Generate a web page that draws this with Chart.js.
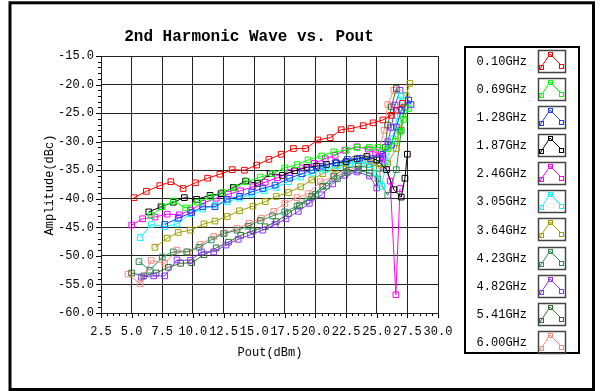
<!DOCTYPE html>
<html>
<head>
<meta charset="utf-8">
<script src="https://cdn.jsdelivr.net/npm/chart.js@4.4.1/dist/chart.umd.min.js"></script>
<style>
html,body{margin:0;padding:0;background:#fff;}
#wrap{width:600px;height:391px;position:relative;}
canvas{display:block;}
</style>
</head>
<body>
<div id="wrap"><canvas id="c" width="600" height="391"></canvas></div>
<script>
// ---- Data (Pout in dBm, Amplitude in dBc) ----
const seriesNames = ["0.10GHz","0.69GHz","1.28GHz","1.87GHz","2.46GHz","3.05GHz","3.64GHz","4.23GHz","4.82GHz","5.41GHz","6.00GHz"];
const seriesColors = ["#ff0000","#00ff00","#1e3cff","#000000","#ff00ff","#00ffff","#a0a000","#2e8b57","#9030ff","#2f6f2f","#ff8a80"];

const pout_010 = [5.2,6.2,7.3,8.2,9.2,10.2,11.2,12.2,13.2,14.2,15.2,16.2,17.2,18.2,19.2,20.2,21.2,22.1,22.9,23.9,24.7,25.5,26.2,26.6,27.1];
const amp_010  = [-39.8,-38.7,-37.7,-37.0,-38.2,-37.2,-36.4,-35.7,-34.9,-35.0,-34.1,-33.1,-32.2,-31.2,-31.2,-29.7,-29.3,-27.9,-27.7,-27.2,-26.7,-26.2,-25.4,-24.5,-23.3];

const pout_069 = [6.6,7.5,8.4,9.4,10.4,11.4,12.4,13.4,14.4,15.5,16.5,17.5,18.5,19.4,20.5,21.5,22.5,23.4,24.4,25.1,25.9,26.5,26.9,27.2,27.6];
const amp_069  = [-42.9,-41.4,-40.4,-41.6,-40.6,-39.7,-38.9,-38.1,-37.0,-36.2,-35.6,-34.6,-34.0,-33.2,-32.5,-31.8,-31.5,-31.0,-31.0,-31.0,-31.2,-29.9,-28.2,-26.1,-24.2];

const pout_128 = [7.7,8.8,9.9,10.8,11.8,12.8,13.8,14.8,15.7,16.7,17.9,18.9,19.7,20.6,21.6,22.6,23.6,24.5,25.5,26.2,26.6,27.0,27.6,27.8];
const amp_128  = [-44.5,-43.4,-42.4,-41.4,-41.4,-40.1,-39.6,-38.8,-38.2,-37.6,-36.4,-35.6,-35.0,-34.3,-33.7,-33.1,-32.9,-33.0,-32.2,-30.6,-27.4,-24.5,-22.7,-23.5];

const pout_187 = [6.4,7.4,8.4,9.3,10.3,11.4,12.3,13.3,14.3,15.3,16.3,17.3,18.3,19.3,20.1,20.9,21.7,22.5,23.4,24.2,25.0,25.8,26.4,27.0,27.3,27.5];
const amp_187  = [-42.3,-41.4,-40.6,-39.8,-40.1,-39.4,-39.1,-38.0,-36.9,-37.3,-35.6,-35.9,-35.1,-34.5,-34.3,-34.0,-33.7,-33.5,-33.0,-32.6,-33.2,-34.9,-38.4,-39.7,-36.4,-32.2];

const pout_246 = [5.0,5.9,6.9,7.9,8.9,9.8,10.8,11.9,12.9,13.9,14.9,15.9,16.9,17.9,18.9,19.9,20.8,21.6,22.4,23.4,24.3,24.9,25.5,26.1,26.56,26.9];
const amp_246  = [-44.6,-43.5,-43.2,-42.7,-42.8,-42.0,-40.8,-39.9,-39.2,-38.6,-37.9,-37.1,-36.3,-35.4,-34.6,-33.8,-33.0,-32.4,-31.5,-30.9,-31.3,-31.9,-32.6,-36.9,-56.8,-38.2];

const pout_305 = [5.7,6.6,7.7,8.7,9.8,10.8,11.8,12.8,13.8,14.8,15.8,16.8,17.8,18.8,19.8,20.8,21.8,22.8,23.8,24.5,25.0,25.4,25.8,26.3,26.7,27.0];
const amp_305  = [-46.8,-44.5,-44.9,-44.4,-42.6,-41.8,-41.1,-40.5,-39.9,-39.2,-38.6,-38.0,-37.0,-36.2,-35.5,-34.9,-34.2,-33.8,-33.6,-34.0,-35.5,-37.8,-33.5,-29.5,-25.5,-22.0];

const pout_364 = [6.9,7.9,8.8,9.8,10.9,11.8,12.8,13.8,14.9,15.9,16.8,17.8,18.8,19.7,20.6,21.6,22.4,23.2,23.9,24.6,25.2,25.9,26.6,26.9,27.4,27.7];
const amp_364  = [-48.5,-46.9,-45.9,-45.5,-44.4,-43.9,-43.1,-42.1,-41.3,-40.5,-39.6,-38.9,-37.9,-36.7,-35.6,-34.7,-33.8,-33.1,-32.9,-33.2,-34.7,-33.8,-31.2,-28.0,-21.9,-19.8];

const pout_423 = [5.6,6.5,7.5,8.4,9.5,10.5,11.5,12.5,13.6,14.5,15.5,16.5,17.5,18.5,19.3,20.0,20.9,21.8,22.6,23.5,24.4,25.1,25.9,26.6,27.0,27.3];
const amp_423  = [-51.0,-52.5,-50.2,-49.3,-49.3,-48.5,-47.2,-46.1,-45.5,-44.8,-43.8,-43.0,-42.3,-41.3,-40.4,-39.2,-37.8,-36.5,-35.4,-35.0,-35.5,-36.5,-39.4,-34.9,-28.0,-24.0];

const pout_482 = [5.8,6.8,7.7,8.7,9.8,10.7,11.7,12.7,13.7,14.7,15.7,16.7,17.6,18.6,19.5,20.5,21.4,22.4,23.4,24.4,25.0,25.5,25.9,26.2,26.5,26.9];
const amp_482  = [-53.7,-53.5,-53.5,-50.7,-50.8,-49.3,-49.3,-48.1,-47.1,-46.3,-45.5,-44.5,-43.5,-42.2,-40.8,-39.3,-37.4,-35.9,-35.3,-36.0,-38.1,-33.0,-30.0,-27.5,-23.6,-21.0];

const pout_541 = [5.0,6.0,7.0,8.0,9.0,9.9,10.9,11.9,12.9,13.9,14.9,15.9,16.8,17.8,18.7,19.7,20.6,21.5,22.5,23.5,24.4,25.2,25.7,25.9,26.2,26.6];
const amp_541  = [-53.0,-53.5,-53.0,-52.0,-51.3,-51.2,-49.8,-48.6,-47.6,-46.4,-45.6,-44.9,-44.0,-42.6,-41.1,-39.6,-37.8,-36.0,-34.6,-34.3,-34.5,-33.8,-31.0,-27.1,-23.9,-20.7];

const pout_600 = [4.7,5.7,6.6,7.7,8.7,9.6,10.6,11.7,12.6,13.6,14.6,15.6,16.6,17.5,18.5,19.4,20.4,21.5,22.5,23.5,24.5,25.2,25.6,25.9,26.4];
const amp_600  = [-53.2,-54.9,-50.8,-51.3,-49.0,-49.3,-48.0,-46.6,-46.0,-45.2,-44.3,-43.4,-42.2,-40.8,-39.8,-39.1,-37.0,-36.2,-35.3,-34.2,-33.3,-31.5,-28.0,-23.5,-21.0];

const xTickLabels = ["2.5","5.0","7.5","10.0","12.5","15.0","17.5","20.0","22.5","25.0","27.5","30.0"];
const yTickLabels = ["-15.0","-20.0","-25.0","-30.0","-35.0","-40.0","-45.0","-50.0","-55.0","-60.0"];
const chartTitle = "2nd Harmonic Wave vs. Pout";
const xTitle = "Pout(dBm)";
const yTitle = "Amplitude(dBc)";

const poutSets = [pout_010,pout_069,pout_128,pout_187,pout_246,pout_305,pout_364,pout_423,pout_482,pout_541,pout_600];
const ampSets  = [amp_010,amp_069,amp_128,amp_187,amp_246,amp_305,amp_364,amp_423,amp_482,amp_541,amp_600];

const MONO = "'Liberation Mono', 'DejaVu Sans Mono', monospace";

const datasets = seriesNames.map((name, i) => ({
  label: name,
  data: poutSets[i].map((x, j) => ({x: x, y: ampSets[i][j]})),
  borderColor: seriesColors[i],
  backgroundColor: 'rgba(0,0,0,0)',
  borderWidth: 1,
  pointStyle: 'rect',
  pointRadius: 4,
  pointBorderWidth: 1,
  pointBorderColor: seriesColors[i],
  pointBackgroundColor: 'rgba(0,0,0,0)',
  tension: 0,
  fill: false
}));

const decor = {
  id: 'decor',
  beforeDraw(chart) {
    const ctx = chart.ctx;
    ctx.save();
    ctx.fillStyle = '#ffffff';
    ctx.fillRect(0, 0, chart.width, chart.height);
    ctx.restore();
  },
  afterDraw(chart) {
    const ctx = chart.ctx;
    const xs = chart.scales.x, ys = chart.scales.y;
    const a = chart.chartArea;
    ctx.save();
    // minor / major ticks
    ctx.strokeStyle = '#000';
    ctx.lineWidth = 1;
    ctx.beginPath();
    for (let k = 0; k <= 55; k++) {
      const v = 2.5 + k * 0.5;
      const px = Math.round(xs.getPixelForValue(v)) + 0.5;
      const len = (k % 5 === 0) ? 5 : 3;
      ctx.moveTo(px, a.bottom);
      ctx.lineTo(px, a.bottom + len);
    }
    for (let k = 0; k <= 45; k++) {
      const v = -60 + k;
      const py = Math.round(ys.getPixelForValue(v)) + 0.5;
      const len = (k % 5 === 0) ? 5 : 3;
      ctx.moveTo(a.left, py);
      ctx.lineTo(a.left - len, py);
    }
    ctx.stroke();

    // title
    ctx.fillStyle = '#000';
    ctx.font = 'bold 16px ' + MONO;
    ctx.textAlign = 'center';
    ctx.textBaseline = 'middle';
    ctx.fillText(chartTitle, 249, 37);

    // axis titles
    ctx.font = '12px ' + MONO;
    ctx.fillText(xTitle, 270, 353);
    ctx.save();
    ctx.translate(50, 185);
    ctx.rotate(-Math.PI / 2);
    ctx.fillText(yTitle, 0, 0);
    ctx.restore();

    // legend
    ctx.lineWidth = 2;
    ctx.strokeStyle = '#000';
    ctx.strokeRect(465, 47, 114, 306);
    for (let i = 0; i < seriesNames.length; i++) {
      const cy = 61.5 + i * 28.15;
      ctx.fillStyle = '#000';
      ctx.font = '12px ' + MONO;
      ctx.textAlign = 'right';
      ctx.textBaseline = 'middle';
      ctx.fillText(seriesNames[i], 527, cy);
      const bx = 538, by = Math.round(cy - 12);
      ctx.lineWidth = 1.5;
      ctx.strokeStyle = '#444';
      ctx.strokeRect(bx + 0.5, by + 0.5, 27, 22);
      ctx.lineWidth = 1;
      ctx.strokeStyle = seriesColors[i];
      ctx.beginPath();
      ctx.moveTo(bx + 2, by + 19);
      ctx.lineTo(bx + 12, by + 4);
      ctx.lineTo(bx + 23, by + 15);
      ctx.stroke();
      const sq = [[bx + 3, by + 17], [bx + 12, by + 4], [bx + 23, by + 16]];
      for (const s of sq) ctx.strokeRect(s[0] - 2 + 0.5, s[1] - 2 + 0.5, 4, 4);
    }

    // outer frame
    ctx.lineWidth = 3;
    ctx.strokeStyle = '#000';
    ctx.strokeRect(10, 2.8, 583.5, 386.7);
    ctx.restore();
  }
};

new Chart(document.getElementById('c'), {
  type: 'line',
  data: { datasets: datasets },
  options: {
    responsive: false,
    animation: false,
    devicePixelRatio: 1,
    layout: { padding: { left: 51, right: 162, top: 56, bottom: 28 } },
    plugins: { legend: { display: false }, title: { display: false }, tooltip: { enabled: false } },
    elements: { line: { tension: 0 } },
    scales: {
      x: {
        type: 'linear', min: 2.5, max: 30,
        afterFit(s) { s.height = 50; },
        ticks: {
          stepSize: 2.5, padding: 12, color: '#000', maxRotation: 0, autoSkip: false,
          font: { family: MONO, size: 12 },
          callback: (v) => { const i = Math.round((v - 2.5) / 2.5); return xTickLabels[i] !== undefined ? xTickLabels[i] : ''; }
        },
        grid: { color: '#222', lineWidth: 1, drawTicks: false },
        border: { color: '#222', width: 1 }
      },
      y: {
        type: 'linear', min: -60, max: -15,
        afterFit(s) { s.width = 50; },
        ticks: {
          stepSize: 5, padding: 7, color: '#000', autoSkip: false,
          font: { family: MONO, size: 12 },
          callback: (v) => { const i = Math.round((-15 - v) / 5); return yTickLabels[i] !== undefined ? yTickLabels[i] : ''; }
        },
        grid: { color: '#222', lineWidth: 1, drawTicks: false },
        border: { color: '#222', width: 1 }
      }
    }
  },
  plugins: [decor]
});
</script>
</body>
</html>
